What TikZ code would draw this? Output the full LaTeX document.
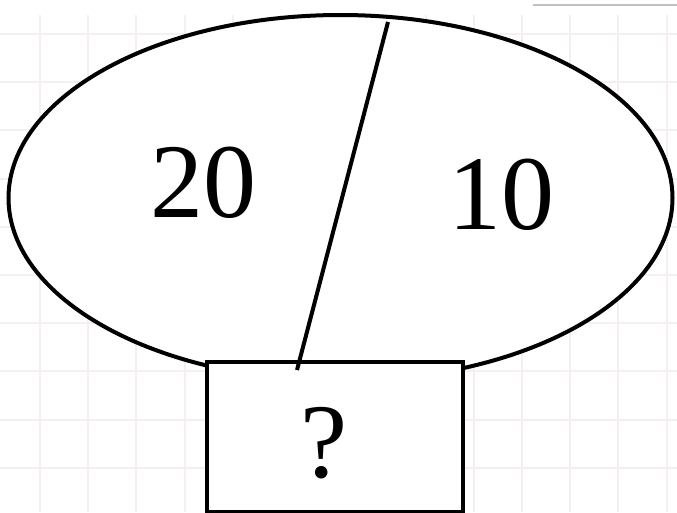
\documentclass[tikz,border=0pt]{standalone}
\usepackage{fontspec}
\setmainfont{Liberation Serif}
\usetikzlibrary{shapes.geometric,positioning,calc}
\definecolor{gridpink}{RGB}{245,239,241}
\definecolor{topgray}{RGB}{192,192,192}
\tikzset{
  gridline/.style={draw=gridpink, line width=2pt},
  oval/.style={draw=black, ellipse, line width=4pt, fill=white, inner sep=0pt},
  answerbox/.style={draw=black, rectangle, line width=4.5pt, fill=white, inner sep=0pt},
  numlabel/.style={inner sep=0pt, font=\fontsize{106}{106}\selectfont},
  cutline/.style={draw=black, line width=4pt}
}

\begin{document}
\begin{tikzpicture}[x=1pt, y=-1pt]
  \useasboundingbox (0,0) rectangle (677,512);
  \fill[white] (0,0) rectangle (677,512);
  % faint grid behind
  \foreach \k in {0,...,13}
    \draw[gridline] ({40+48.2*\k},15) -- ({40+48.2*\k},512);
  \foreach \k in {0,...,9}
    \draw[gridline] (0,{34+48.2*\k}) -- (677,{34+48.2*\k});
  \draw[topgray, line width=2pt] (533,5) -- (677,5);

  \node[oval, minimum width=664pt, minimum height=366pt] (whole) at (340.5,198) {};
  \node[answerbox, minimum width=256pt, minimum height=150pt] (missing) at (335,437) {};

  \coordinate (cuttop) at (388,22);
  \coordinate (cutbot) at (297,370);
  \draw[cutline] (cuttop) -- (cutbot);

  \node[numlabel] (left) at (203,183) {20};
  \node[numlabel] (right) at (501,195) {10};
  \node[numlabel] (ask) at (324,443) {?};
\end{tikzpicture}
\end{document}
